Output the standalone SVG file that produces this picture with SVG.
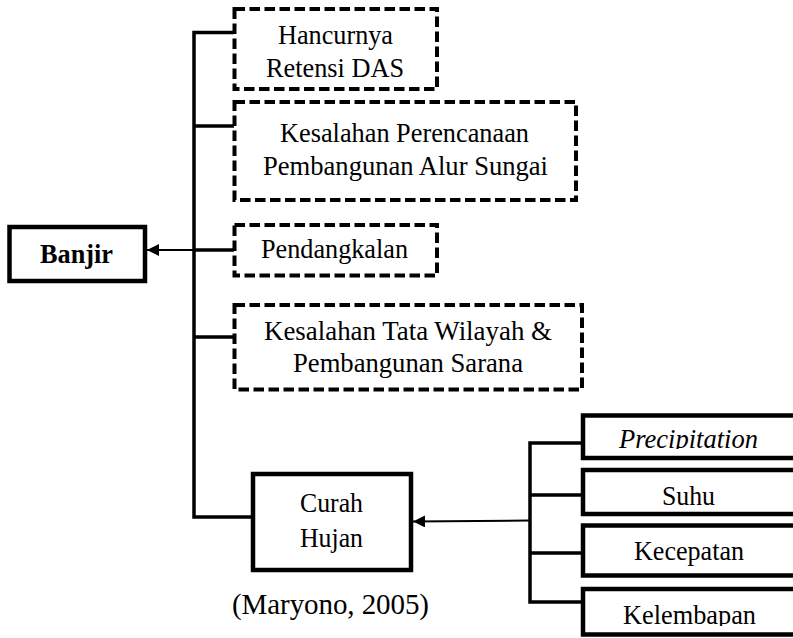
<svg xmlns="http://www.w3.org/2000/svg" width="793" height="638" viewBox="0 0 793 638">
<style>
text{font-family:"Liberation Serif","Times New Roman",serif;font-size:27.5px;fill:#000}
.dash{fill:#fff;stroke:#000;stroke-width:4;stroke-dasharray:10.5 4.5}
.solid{fill:#fff;stroke:#000;stroke-width:4.5}
.ln{fill:none;stroke:#000;stroke-width:3.5}
.ar{fill:none;stroke:#000;stroke-width:2}
</style>
<defs>
<marker id="ah" viewBox="0 0 12 12" refX="12" refY="6" markerWidth="12" markerHeight="12" markerUnits="userSpaceOnUse" orient="auto">
<path d="M0,0 L12,6 L0,12 Z" fill="#000"/>
</marker>
<clipPath id="cp1"><rect x="582" y="410" width="220" height="39"/></clipPath>
<clipPath id="cp2"><rect x="582" y="585" width="220" height="41"/></clipPath>
</defs>
<rect width="793" height="638" fill="#fff"/>
<g id="connectors">
<path class="ln" d="M234,32.5 H194 V517 H253 M194,126 H234 M194,337 H234"/>
<path class="ln" d="M582,443 H530 V602 H582 M530,495 H582 M530,553 H582"/>
<line class="ar" x1="194" y1="250" x2="147" y2="250" marker-end="url(#ah)"/>
<path class="ln" d="M194,250 H234"/>
<line class="ar" x1="529" y1="520.5" x2="413" y2="521.5" marker-end="url(#ah)"/>
</g>
<g id="banjir">
<rect class="solid" x="9.5" y="227" width="135.5" height="54"/>
<text x="40" y="263" font-weight="bold" textLength="73" lengthAdjust="spacingAndGlyphs">Banjir</text>
</g>
<g id="hancurnya">
<rect class="dash" x="234.5" y="9" width="202.5" height="80"/>
<text x="278" y="44" textLength="115" lengthAdjust="spacingAndGlyphs">Hancurnya</text>
<text x="266" y="77" textLength="138" lengthAdjust="spacingAndGlyphs">Retensi DAS</text>
</g>
<g id="perencanaan">
<rect class="dash" x="234.5" y="102" width="341.5" height="98"/>
<text x="280" y="142" textLength="249" lengthAdjust="spacingAndGlyphs">Kesalahan Perencanaan</text>
<text x="263" y="175" textLength="285" lengthAdjust="spacingAndGlyphs">Pembangunan Alur Sungai</text>
</g>
<g id="pendangkalan">
<rect class="dash" x="234.5" y="225" width="202.5" height="50.5"/>
<text x="261" y="258" textLength="147" lengthAdjust="spacingAndGlyphs">Pendangkalan</text>
</g>
<g id="tatawilayah">
<rect class="dash" x="234.5" y="305" width="347.5" height="84.5"/>
<text x="264" y="340" textLength="288" lengthAdjust="spacingAndGlyphs">Kesalahan Tata Wilayah &amp;</text>
<text x="293" y="372" textLength="230" lengthAdjust="spacingAndGlyphs">Pembangunan Sarana</text>
</g>
<g id="curahhujan">
<rect class="solid" x="253" y="474" width="158" height="96"/>
<text x="300" y="512" textLength="63" lengthAdjust="spacingAndGlyphs">Curah</text>
<text x="300" y="547" textLength="63" lengthAdjust="spacingAndGlyphs">Hujan</text>
</g>
<g id="precipitation">
<rect class="solid" x="583" y="415.5" width="220" height="42.5"/>
<text x="619" y="448" font-style="italic" textLength="139" lengthAdjust="spacingAndGlyphs" clip-path="url(#cp1)">Precipitation</text>
</g>
<g id="suhu">
<rect class="solid" x="583" y="470" width="220" height="44"/>
<text x="662" y="505" textLength="53" lengthAdjust="spacingAndGlyphs">Suhu</text>
</g>
<g id="kecepatan">
<rect class="solid" x="583" y="525.5" width="220" height="50"/>
<text x="634" y="560" textLength="110" lengthAdjust="spacingAndGlyphs">Kecepatan</text>
</g>
<g id="kelembapan">
<rect class="solid" x="583" y="589" width="220" height="45.5"/>
<text x="623" y="623.5" textLength="133" lengthAdjust="spacingAndGlyphs" clip-path="url(#cp2)">Kelembapan</text>
</g>
<g id="source">
<text x="232" y="614" style="font-size:29px" textLength="197">(Maryono, 2005)</text>
</g>
</svg>
